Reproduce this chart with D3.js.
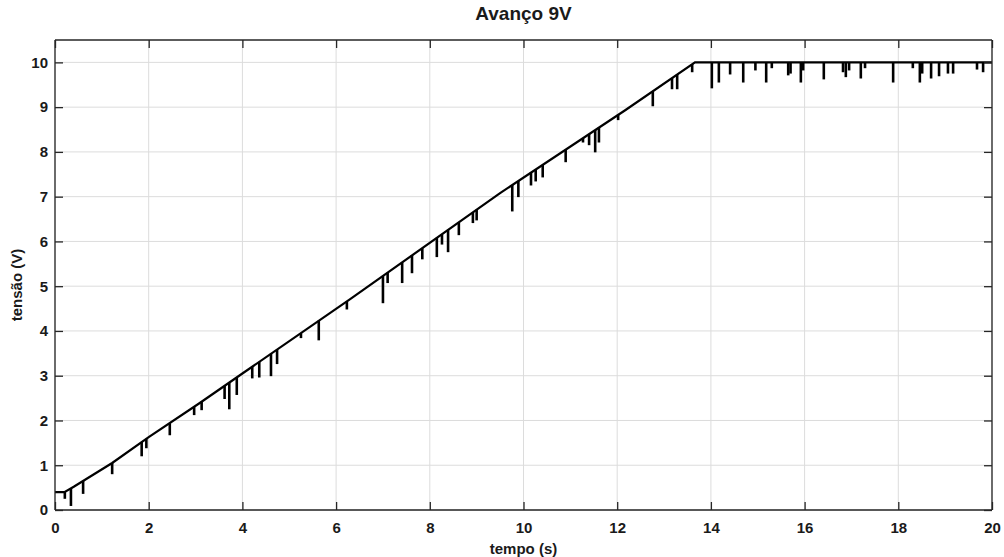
<!DOCTYPE html>
<html>
<head>
<meta charset="utf-8">
<script src="https://cdn.jsdelivr.net/npm/d3@7"></script>
<style>
  body { margin: 0; background: #fff; }
  svg text { font-family: "Liberation Sans", Arial, sans-serif; font-weight: bold; fill: #1a1a1a; }
</style>
</head>
<body>
<div id="chart"></div>
<script>
// trace breakpoints (tempo in s, tensão in V)
var curveT = [0, 0.2, 0.4, 1.22, 2, 3.09, 4, 6.3, 9.5, 12.17, 13.66, 20];
var curveV = [0.4, 0.4, 0.52, 1.05, 1.63, 2.39, 3.05, 4.71, 7.08, 8.93, 10, 10];

// downward glitches: time, value on the trace, lowest value
var spikeT = [0.21, 0.34, 0.6, 1.22, 1.85, 1.95, 2.45, 2.97, 3.13, 3.62, 3.72, 3.88, 4.21, 4.36, 4.61, 4.74,
  5.25, 5.63, 6.23, 7.0, 7.1, 7.41, 7.62, 7.84, 8.15, 8.26, 8.39, 8.62, 8.92, 9.0, 9.76, 9.89,
  10.16, 10.26, 10.41, 10.9, 11.27, 11.4, 11.53, 11.61, 12.02, 12.76, 13.17, 13.28, 13.6,
  14.02, 14.17, 14.41, 14.69, 14.95, 15.18, 15.3, 15.65, 15.7, 15.92, 15.97,
  16.41, 16.82, 16.88, 16.95, 17.2, 17.29, 17.89, 18.31, 18.46, 18.51, 18.7, 18.87, 19.06, 19.17, 19.68, 19.81];
var spikeTop = [0.41, 0.48, 0.65, 1.05, 1.52, 1.59, 1.94, 2.30, 2.42, 2.77, 2.85, 2.96, 3.20, 3.31, 3.49, 3.58,
  3.95, 4.23, 4.66, 5.23, 5.30, 5.53, 5.69, 5.85, 6.08, 6.16, 6.26, 6.43, 6.65, 6.71, 7.26, 7.35,
  7.54, 7.61, 7.71, 8.05, 8.31, 8.40, 8.49, 8.54, 8.83, 9.35, 9.65, 9.73, 9.96,
  10, 10, 10, 10, 10, 10, 10, 10, 10, 10, 10,
  10, 10, 10, 10, 10, 10, 10, 10, 10, 10, 10, 10, 10, 10, 10, 10];
var spikeLow = [0.25, 0.09, 0.36, 0.80, 1.2, 1.38, 1.67, 2.12, 2.23, 2.48, 2.25, 2.57, 2.94, 2.96, 2.99, 3.26,
  3.84, 3.79, 4.48, 4.62, 5.07, 5.07, 5.29, 5.60, 5.65, 5.93, 5.76, 6.14, 6.41, 6.47, 6.67, 6.99,
  7.25, 7.34, 7.43, 7.77, 8.21, 8.15, 7.99, 8.21, 8.71, 9.02, 9.4, 9.4, 9.78,
  9.42, 9.55, 9.73, 9.55, 9.82, 9.55, 9.87, 9.71, 9.75, 9.55, 9.82,
  9.62, 9.78, 9.67, 9.82, 9.64, 9.87, 9.55, 9.87, 9.55, 9.75, 9.64, 9.69, 9.75, 9.75, 9.84, 9.78];

var xTicks = [0, 2, 4, 6, 8, 10, 12, 14, 16, 18, 20];
var yTicks = [0, 1, 2, 3, 4, 5, 6, 7, 8, 9, 10];

var width = 1004, height = 557;
var margin = {top: 40, right: 12, bottom: 47, left: 55};
var w = width - margin.left - margin.right;
var h = height - margin.top - margin.bottom;

var svg = d3.select("#chart").append("svg")
    .attr("width", width)
    .attr("height", height);

var g = svg.append("g")
    .attr("transform", "translate(" + margin.left + "," + margin.top + ")");

var x = d3.scaleLinear().domain([0, 20]).range([0, w]);
var y = d3.scaleLinear().domain([0, 10.5]).range([h, 0]);

// grid
g.append("g").selectAll("line").data(xTicks).enter().append("line")
    .attr("x1", d => x(d)).attr("x2", d => x(d))
    .attr("y1", 0).attr("y2", h)
    .attr("stroke", "#dcdcdc").attr("stroke-width", 1);
g.append("g").selectAll("line").data(yTicks).enter().append("line")
    .attr("x1", 0).attr("x2", w)
    .attr("y1", d => y(d)).attr("y2", d => y(d))
    .attr("stroke", "#dcdcdc").attr("stroke-width", 1);

// trace
var curve = curveT.map((t, i) => [t, curveV[i]]);
var line = d3.line().x(d => x(d[0])).y(d => y(d[1]));
g.append("path")
    .datum(curve)
    .attr("d", line)
    .attr("fill", "none")
    .attr("stroke", "#000")
    .attr("stroke-width", 2.2);

var spikes = spikeT.map((t, i) => ({t: t, top: spikeTop[i], low: spikeLow[i]}));
g.append("g").selectAll("line").data(spikes).enter().append("line")
    .attr("x1", d => x(d.t)).attr("x2", d => x(d.t))
    .attr("y1", d => y(d.top)).attr("y2", d => y(d.low))
    .attr("stroke", "#000")
    .attr("stroke-width", 2.6);

// axes, MATLAB-like: ticks inside on all four sides
var xAxis = d3.axisBottom(x).tickValues(xTicks).tickSizeInner(-8).tickSizeOuter(0);
var yAxis = d3.axisLeft(y).tickValues(yTicks).tickSizeInner(-8).tickSizeOuter(0);

var gx = g.append("g").attr("transform", "translate(0," + h + ")").call(xAxis);
var gy = g.append("g").call(yAxis);
var gxTop = g.append("g").call(d3.axisTop(x).tickValues(xTicks).tickSizeInner(-8).tickSizeOuter(0).tickFormat(""));
var gyRight = g.append("g").attr("transform", "translate(" + w + ",0)")
    .call(d3.axisRight(y).tickValues(yTicks).tickSizeInner(-8).tickSizeOuter(0).tickFormat(""));

[gx, gy, gxTop, gyRight].forEach(function (a) {
    a.select(".domain").attr("stroke", "#262626").attr("stroke-width", 1.3);
    a.selectAll(".tick line").attr("stroke", "#262626").attr("stroke-width", 1.3);
    a.selectAll("text").attr("font-size", 15).attr("font-weight", "bold").attr("fill", "#1a1a1a");
});
gx.selectAll(".tick text").attr("dy", "0.71em").attr("y", 12);
gy.selectAll(".tick text").attr("x", -7);

// close the box
gy.select(".domain").attr("d", "M0," + h + "V0");
gyRight.select(".domain").attr("d", "M0," + h + "V0");
gxTop.select(".domain").attr("d", "M0,0H" + w);
gx.select(".domain").attr("d", "M0,0H" + w);

// labels
svg.append("text")
    .attr("x", margin.left + w / 2)
    .attr("y", 20)
    .attr("text-anchor", "middle")
    .attr("font-size", 19)
    .text("Avanço 9V");

svg.append("text")
    .attr("x", margin.left + w / 2)
    .attr("y", 554)
    .attr("text-anchor", "middle")
    .attr("font-size", 15)
    .text("tempo (s)");

svg.append("text")
    .attr("transform", "translate(22," + (margin.top + h / 2 + 10) + ") rotate(-90)")
    .attr("text-anchor", "middle")
    .attr("font-size", 15)
    .text("tensão (V)");
</script>
</body>
</html>
